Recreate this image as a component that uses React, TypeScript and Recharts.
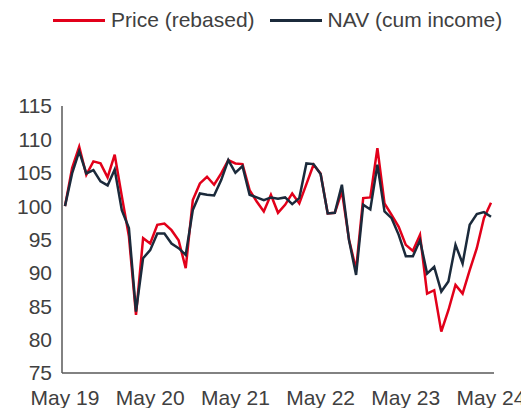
import React from "react";
import { LineChart, Line, XAxis, YAxis } from "recharts";

const price = [100, 105.7, 108.9, 104.7, 106.7, 106.4, 104.3, 107.7, 101.5, 95.5, 83.7, 95.2, 94.4, 97.2, 97.4, 96.4, 94.9, 90.7, 100.9, 103.4, 104.4, 103.2, 104.9, 106.9, 106.4, 106.3, 102.4, 100.7, 99.2, 101.7, 99.0, 100.2, 101.9, 100.4, 103.3, 106.2, 104.9, 98.9, 99.0, 102.2, 95.0, 90.5, 101.2, 101.3, 108.7, 100.4, 98.7, 96.9, 94.2, 93.3, 95.7, 86.9, 87.4, 81.2, 84.4, 88.2, 86.9, 90.4, 93.7, 98.2, 100.5];
const nav = [100, 104.9, 108.2, 104.9, 105.4, 103.7, 103.1, 105.5, 99.4, 96.7, 84.2, 92.2, 93.4, 95.9, 95.9, 94.4, 93.7, 92.7, 99.4, 101.9, 101.7, 101.6, 103.9, 106.9, 105.0, 106.0, 101.7, 101.3, 100.9, 101.3, 101.1, 101.3, 100.3, 101.2, 106.4, 106.3, 104.8, 98.9, 99.0, 103.2, 94.9, 89.7, 100.2, 99.5, 106.2, 99.2, 98.2, 95.7, 92.5, 92.5, 94.9, 89.9, 90.9, 87.2, 88.7, 94.2, 91.4, 97.2, 98.8, 99.1, 98.4];
const tickIndices = [0, 12, 24, 36, 48, 60];
const tickLabels = ["May 19", "May 20", "May 21", "May 22", "May 23", "May 24"];
const yTicks = [75, 80, 85, 90, 95, 100, 105, 110, 115];

const data = price.map((p, i) => ({ idx: i, price: p, nav: nav[i] }));

const RED = "#E2001A";
const NAVY = "#1B2A3B";
const TEXT = "#404040";
const FONT = "Arial, 'Liberation Sans', sans-serif";

export default function App() {
  return (
    <div style={{ position: "relative", width: 529, height: 408, margin: "-8px 0 0 -8px", fontFamily: FONT }}>
      <div style={{ position: "absolute", top: 8, left: 53, display: "flex", alignItems: "center", fontSize: 21, color: TEXT, whiteSpace: "nowrap" }}>
        <span style={{ display: "inline-block", width: 52, height: 3, background: RED, marginRight: 6 }} />
        <span>Price (rebased)</span>
        <span style={{ display: "inline-block", width: 52, height: 3, background: NAVY, marginLeft: 15, marginRight: 6 }} />
        <span>NAV (cum income)</span>
      </div>
      <LineChart width={529} height={408} data={data} margin={{ top: 106, right: 35, bottom: 0, left: 0 }}>
        <XAxis
          dataKey="idx"
          type="number"
          domain={[0, 60]}
          ticks={tickIndices}
          tickFormatter={(v: number) => tickLabels[tickIndices.indexOf(v)]}
          padding={{ left: 3, right: 3 }}
          height={35}
          tickLine={false}
          tickSize={0}
          tickMargin={17}
          axisLine={{ stroke: "#595959", strokeWidth: 1.5 }}
          tick={{ fill: TEXT, fontSize: 21, fontFamily: FONT }}
          interval={0}
        />
        <YAxis
          domain={[75, 115]}
          ticks={yTicks}
          width={62}
          tickLine={false}
          tickSize={0}
          tickMargin={10}
          axisLine={{ stroke: "#595959", strokeWidth: 1.5 }}
          tick={{ fill: TEXT, fontSize: 21, fontFamily: FONT }}
          interval={0}
        />
        <Line type="linear" dataKey="price" stroke={RED} strokeWidth={2.5} dot={false} isAnimationActive={false} />
        <Line type="linear" dataKey="nav" stroke={NAVY} strokeWidth={2.5} dot={false} isAnimationActive={false} />
      </LineChart>
    </div>
  );
}
